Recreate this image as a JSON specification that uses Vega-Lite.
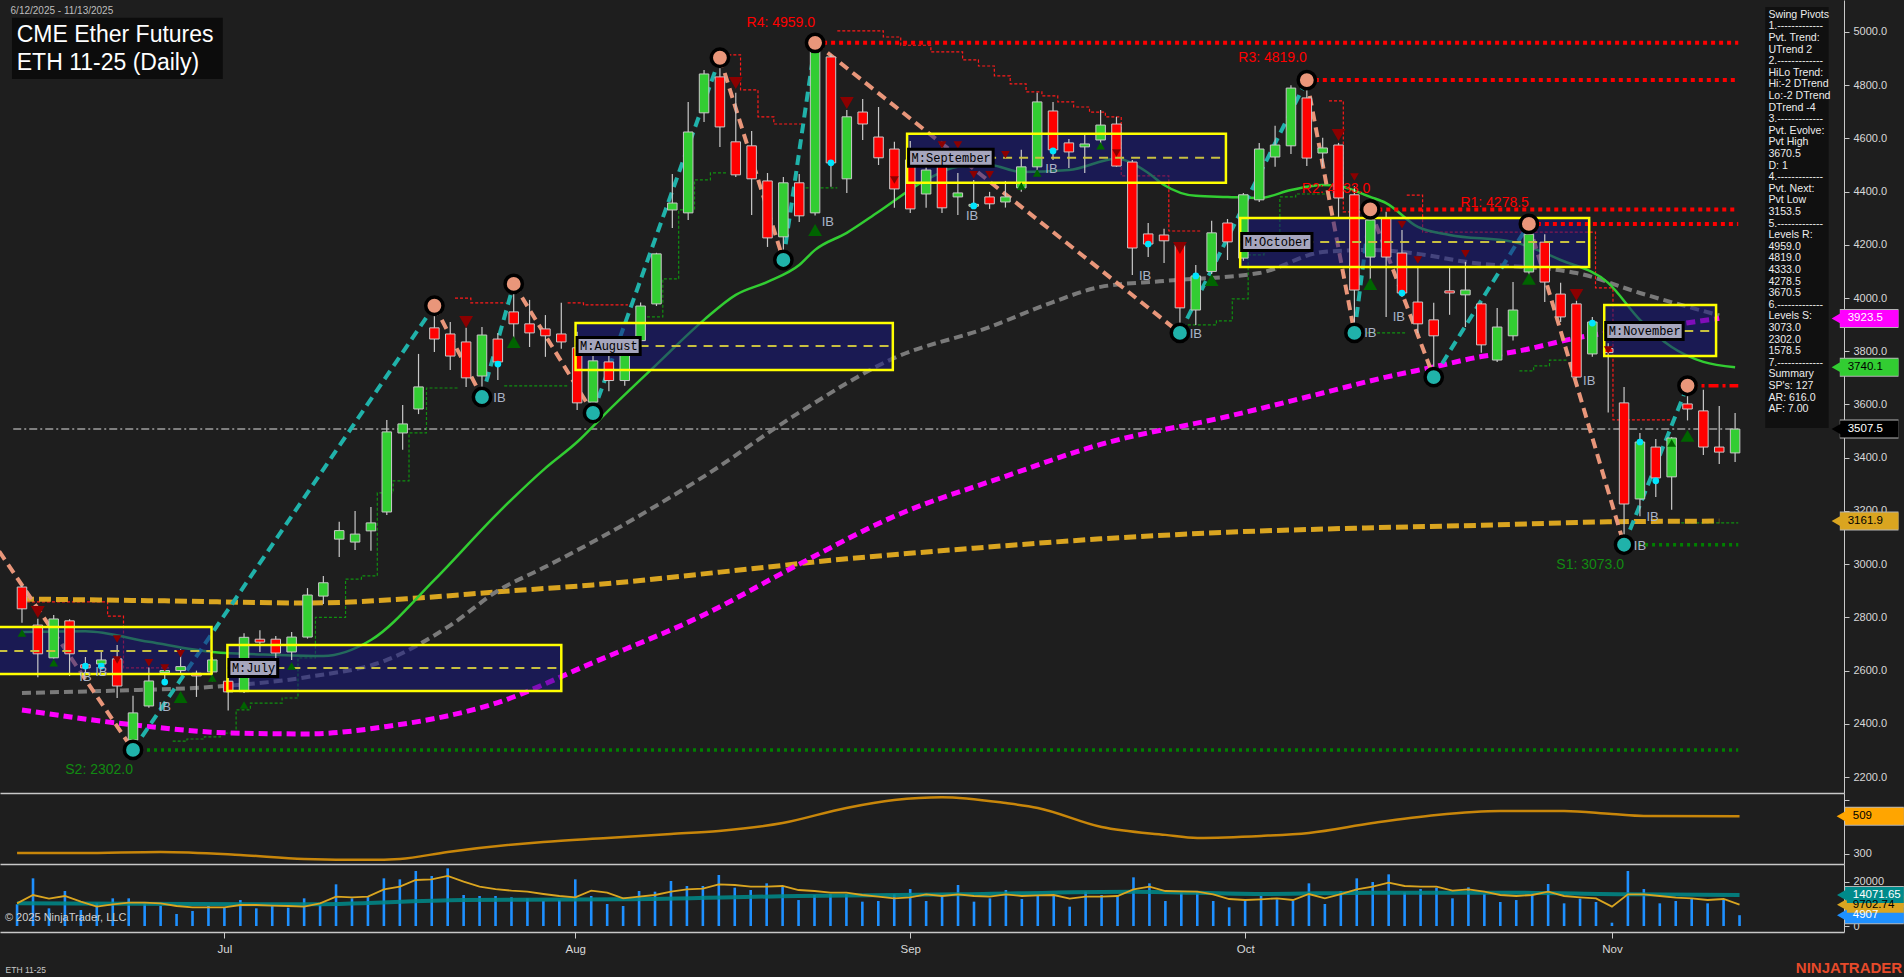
{
"$schema":"https://vega.github.io/schema/vega-lite/v6.json",
"background":"#1e1e1e",
"padding":0,
"spacing":0,
"bounds":"flush",
"config":{"view":{"stroke":null},"font":"Liberation Sans","axis":{"grid":false,"labelFont":"Liberation Sans"}},
"datasets":{
"bars":[
{"i":0,"o":2914,"h":2920,"l":2780,"c":2832,"v":9850,"vf":10300},
{"i":1,"o":2771,"h":2795,"l":2575,"c":2663,"v":21670,"vf":14090},
{"i":2,"o":2648,"h":2809,"l":2645,"c":2794,"v":8030,"vf":12420},
{"i":3,"o":2787,"h":2793,"l":2580,"c":2663,"v":15900,"vf":13640},
{"i":4,"o":2622,"h":2651,"l":2591,"c":2610,"v":7270,"vf":11060},
{"i":5,"o":2625,"h":2670,"l":2610,"c":2640,"v":10300,"vf":8790},
{"i":6,"o":2644,"h":2696,"l":2497,"c":2542,"v":12575,"vf":9850},
{"i":7,"o":2339,"h":2505,"l":2302,"c":2441,"v":12575,"vf":10600},
{"i":8,"o":2467,"h":2612,"l":2460,"c":2561,"v":10300,"vf":10600},
{"i":9,"o":2592,"h":2612,"l":2560,"c":2600,"v":9240,"vf":10300},
{"i":10,"o":2600,"h":2680,"l":2590,"c":2615,"v":5450,"vf":9090},
{"i":11,"o":2590,"h":2600,"l":2501,"c":2580,"v":6820,"vf":8480},
{"i":12,"o":2595,"h":2650,"l":2560,"c":2640,"v":9090,"vf":8480},
{"i":13,"o":2560,"h":2600,"l":2450,"c":2520,"v":8330,"vf":8480},
{"i":14,"o":2521,"h":2740,"l":2516,"c":2725,"v":11800,"vf":9545},
{"i":15,"o":2718,"h":2752,"l":2670,"c":2707,"v":8030,"vf":9545},
{"i":16,"o":2718,"h":2730,"l":2640,"c":2666,"v":9090,"vf":9240},
{"i":17,"o":2670,"h":2745,"l":2640,"c":2726,"v":8330,"vf":9090},
{"i":18,"o":2726,"h":2910,"l":2720,"c":2884,"v":12575,"vf":8790},
{"i":19,"o":2880,"h":2955,"l":2850,"c":2930,"v":9545,"vf":10300},
{"i":20,"o":3094,"h":3159,"l":3027,"c":3126,"v":18940,"vf":13330},
{"i":21,"o":3083,"h":3200,"l":3053,"c":3113,"v":12575,"vf":13030},
{"i":22,"o":3125,"h":3215,"l":3050,"c":3155,"v":13640,"vf":13330},
{"i":23,"o":3196,"h":3542,"l":3185,"c":3497,"v":21670,"vf":16670},
{"i":24,"o":3493,"h":3598,"l":3430,"c":3527,"v":21210,"vf":17880},
{"i":25,"o":3583,"h":3790,"l":3564,"c":3666,"v":25000,"vf":20900},
{"i":26,"o":3888,"h":3971,"l":3797,"c":3846,"v":22730,"vf":21210},
{"i":27,"o":3865,"h":3910,"l":3730,"c":3782,"v":26200,"vf":22730},
{"i":28,"o":3835,"h":3888,"l":3666,"c":3700,"v":14090,"vf":20150},
{"i":29,"o":3707,"h":3891,"l":3628,"c":3861,"v":13640,"vf":17880},
{"i":30,"o":3846,"h":3869,"l":3692,"c":3760,"v":13640,"vf":16800},
{"i":31,"o":3948,"h":4053,"l":3843,"c":3903,"v":13030,"vf":16060},
{"i":32,"o":3903,"h":3993,"l":3816,"c":3869,"v":12575,"vf":15600},
{"i":33,"o":3884,"h":3936,"l":3779,"c":3858,"v":11360,"vf":14540},
{"i":34,"o":3865,"h":3982,"l":3809,"c":3835,"v":11800,"vf":13640},
{"i":35,"o":3813,"h":3873,"l":3579,"c":3606,"v":21210,"vf":13030},
{"i":36,"o":3609,"h":3800,"l":3568,"c":3764,"v":13640,"vf":16060},
{"i":37,"o":3760,"h":3800,"l":3650,"c":3690,"v":10000,"vf":15150},
{"i":38,"o":3690,"h":3850,"l":3670,"c":3800,"v":9090,"vf":12575},
{"i":39,"o":3840,"h":3983,"l":3820,"c":3970,"v":15900,"vf":13330},
{"i":40,"o":3978,"h":4170,"l":3970,"c":4166,"v":15600,"vf":14090},
{"i":41,"o":4331,"h":4466,"l":4263,"c":4357,"v":20450,"vf":15600},
{"i":42,"o":4320,"h":4737,"l":4293,"c":4624,"v":18180,"vf":16670},
{"i":43,"o":4696,"h":4857,"l":4662,"c":4842,"v":18180,"vf":16970},
{"i":44,"o":4831,"h":4903,"l":4568,"c":4643,"v":23180,"vf":18940},
{"i":45,"o":4587,"h":4771,"l":4455,"c":4463,"v":17420,"vf":18630},
{"i":46,"o":4572,"h":4628,"l":4312,"c":4448,"v":16360,"vf":17880},
{"i":47,"o":4440,"h":4470,"l":4192,"c":4226,"v":19390,"vf":17880},
{"i":48,"o":4230,"h":4455,"l":4143,"c":4433,"v":17880,"vf":18180},
{"i":49,"o":4433,"h":4466,"l":4286,"c":4309,"v":11800,"vf":16360},
{"i":50,"o":4320,"h":4959,"l":4310,"c":4932,"v":14090,"vf":15900},
{"i":51,"o":4906,"h":4915,"l":4418,"c":4508,"v":14540,"vf":15150},
{"i":52,"o":4448,"h":4707,"l":4395,"c":4681,"v":14540,"vf":15150},
{"i":53,"o":4699,"h":4748,"l":4594,"c":4654,"v":11060,"vf":14090},
{"i":54,"o":4605,"h":4718,"l":4500,"c":4527,"v":11360,"vf":13330},
{"i":55,"o":4560,"h":4587,"l":4339,"c":4410,"v":14390,"vf":12575},
{"i":56,"o":4519,"h":4590,"l":4320,"c":4335,"v":16800,"vf":13030},
{"i":57,"o":4391,"h":4530,"l":4339,"c":4481,"v":11360,"vf":14390},
{"i":58,"o":4519,"h":4583,"l":4320,"c":4339,"v":13330,"vf":13640},
{"i":59,"o":4380,"h":4470,"l":4312,"c":4395,"v":18630,"vf":14390},
{"i":60,"o":4345,"h":4444,"l":4342,"c":4352,"v":11060,"vf":13640},
{"i":61,"o":4380,"h":4399,"l":4335,"c":4354,"v":12575,"vf":13330},
{"i":62,"o":4361,"h":4440,"l":4340,"c":4380,"v":16360,"vf":14390},
{"i":63,"o":4414,"h":4557,"l":4399,"c":4493,"v":12270,"vf":13640},
{"i":64,"o":4493,"h":4771,"l":4481,"c":4737,"v":14090,"vf":13940},
{"i":65,"o":4703,"h":4737,"l":4519,"c":4557,"v":14090,"vf":14090},
{"i":66,"o":4583,"h":4598,"l":4489,"c":4549,"v":8790,"vf":12420},
{"i":67,"o":4568,"h":4613,"l":4470,"c":4579,"v":15600,"vf":13330},
{"i":68,"o":4594,"h":4707,"l":4564,"c":4650,"v":14090,"vf":13330},
{"i":69,"o":4654,"h":4681,"l":4493,"c":4496,"v":14090,"vf":13640},
{"i":70,"o":4511,"h":4519,"l":4087,"c":4188,"v":22120,"vf":16670},
{"i":71,"o":4241,"h":4282,"l":4154,"c":4203,"v":19390,"vf":17880},
{"i":72,"o":4237,"h":4260,"l":4132,"c":4215,"v":11360,"vf":15900},
{"i":73,"o":4200,"h":4211,"l":3869,"c":3963,"v":15300,"vf":15750},
{"i":74,"o":3955,"h":4124,"l":3899,"c":4083,"v":15600,"vf":15600},
{"i":75,"o":4100,"h":4290,"l":4090,"c":4245,"v":11360,"vf":14390},
{"i":76,"o":4282,"h":4297,"l":4143,"c":4211,"v":8480,"vf":12270},
{"i":77,"o":4150,"h":4395,"l":4140,"c":4388,"v":11510,"vf":11820},
{"i":78,"o":4369,"h":4583,"l":4361,"c":4560,"v":13640,"vf":12120},
{"i":79,"o":4530,"h":4647,"l":4493,"c":4575,"v":12120,"vf":12575},
{"i":80,"o":4572,"h":4800,"l":4541,"c":4789,"v":11510,"vf":11820},
{"i":81,"o":4752,"h":4819,"l":4496,"c":4526,"v":19390,"vf":14540},
{"i":82,"o":4545,"h":4602,"l":4493,"c":4564,"v":10000,"vf":12575},
{"i":83,"o":4575,"h":4583,"l":4305,"c":4376,"v":15900,"vf":14540},
{"i":84,"o":4388,"h":4420,"l":3869,"c":4030,"v":21670,"vf":16670},
{"i":85,"o":4154,"h":4333,"l":4070,"c":4293,"v":20000,"vf":17880},
{"i":86,"o":4301,"h":4324,"l":3929,"c":4154,"v":23480,"vf":19700},
{"i":87,"o":4169,"h":4256,"l":4004,"c":4019,"v":15300,"vf":18180},
{"i":88,"o":3985,"h":4117,"l":3869,"c":3903,"v":16800,"vf":17880},
{"i":89,"o":3918,"h":3982,"l":3703,"c":3858,"v":17420,"vf":17880},
{"i":90,"o":4027,"h":4113,"l":3937,"c":4019,"v":12575,"vf":16060},
{"i":91,"o":4012,"h":4136,"l":3891,"c":4030,"v":17570,"vf":16670},
{"i":92,"o":3978,"h":3982,"l":3794,"c":3824,"v":14540,"vf":15600},
{"i":93,"o":3767,"h":3963,"l":3760,"c":3891,"v":10900,"vf":14090},
{"i":94,"o":3858,"h":4060,"l":3840,"c":3955,"v":11800,"vf":13640},
{"i":95,"o":4098,"h":4278.5,"l":4080,"c":4240,"v":14850,"vf":14090},
{"i":96,"o":4210,"h":4240,"l":3985,"c":4060,"v":19090,"vf":15600},
{"i":97,"o":4015,"h":4057,"l":3910,"c":3929,"v":10300,"vf":13640},
{"i":98,"o":3978,"h":3990,"l":3700,"c":3703,"v":12420,"vf":13030},
{"i":99,"o":3790,"h":3929,"l":3779,"c":3910,"v":10900,"vf":12575},
{"i":100,"o":3810,"h":3830,"l":3570,"c":3795,"v":1500,"vf":8790},
{"i":101,"o":3606,"h":3666,"l":3073,"c":3226,"v":25000,"vf":14390},
{"i":102,"o":3245,"h":3493,"l":3180,"c":3459,"v":16800,"vf":14390},
{"i":103,"o":3440,"h":3470,"l":3252,"c":3324,"v":10300,"vf":13640},
{"i":104,"o":3328,"h":3478,"l":3204,"c":3474,"v":11360,"vf":12880},
{"i":105,"o":3602,"h":3670.5,"l":3540,"c":3583,"v":12575,"vf":12575},
{"i":106,"o":3576,"h":3655,"l":3410,"c":3440,"v":10300,"vf":11820},
{"i":107,"o":3440,"h":3594,"l":3376,"c":3421,"v":12120,"vf":12270},
{"i":108,"o":3418,"h":3568,"l":3384,"c":3507.5,"v":4907,"vf":9703}
],
"ma":[
{"s":"g","i":0,"p":2745},{"s":"g","i":4,"p":2748},{"s":"g","i":8,"p":2708},{"s":"g","i":12,"p":2670},{"s":"g","i":16,"p":2659},{"s":"g","i":19,"p":2655},{"s":"g","i":22,"p":2715},{"s":"g","i":26,"p":2941},{"s":"g","i":30,"p":3192},{"s":"g","i":33,"p":3361},{"s":"g","i":35,"p":3459},{"s":"g","i":37,"p":3579},{"s":"g","i":40,"p":3750},{"s":"g","i":43,"p":3918},{"s":"g","i":45,"p":4012},{"s":"g","i":47,"p":4061},{"s":"g","i":49,"p":4124},{"s":"g","i":50,"p":4181},{"s":"g","i":52,"p":4245},{"s":"g","i":54,"p":4324},{"s":"g","i":57,"p":4444},{"s":"g","i":59,"p":4493},{"s":"g","i":61,"p":4500},{"s":"g","i":63,"p":4474},{"s":"g","i":66,"p":4481},{"s":"g","i":69,"p":4523},{"s":"g","i":71,"p":4470},{"s":"g","i":72,"p":4425},{"s":"g","i":74,"p":4384},{"s":"g","i":76,"p":4380},{"s":"g","i":78,"p":4376},{"s":"g","i":80,"p":4406},{"s":"g","i":82,"p":4425},{"s":"g","i":83,"p":4421},{"s":"g","i":85,"p":4380},{"s":"g","i":86,"p":4357},{"s":"g","i":88,"p":4267},{"s":"g","i":90,"p":4237},{"s":"g","i":94,"p":4211},{"s":"g","i":97,"p":4143},{"s":"g","i":100,"p":4057},{"s":"g","i":102,"p":3918},{"s":"g","i":104,"p":3816},{"s":"g","i":106,"p":3760},{"s":"g","i":108,"p":3740.1},
{"s":"k","i":0,"p":2516},{"s":"k","i":6,"p":2525},{"s":"k","i":12,"p":2539},{"s":"k","i":18,"p":2576},{"s":"k","i":23,"p":2640},{"s":"k","i":27,"p":2770},{"s":"k","i":30,"p":2900},{"s":"k","i":33,"p":2990},{"s":"k","i":37,"p":3117},{"s":"k","i":43,"p":3330},{"s":"k","i":49,"p":3570},{"s":"k","i":55,"p":3775},{"s":"k","i":61,"p":3891},{"s":"k","i":65,"p":3985},{"s":"k","i":68,"p":4042},{"s":"k","i":72,"p":4064},{"s":"k","i":78,"p":4094},{"s":"k","i":82,"p":4173},{"s":"k","i":85,"p":4181},{"s":"k","i":88,"p":4166},{"s":"k","i":91,"p":4136},{"s":"k","i":98,"p":4094},{"s":"k","i":102,"p":4019},{"s":"k","i":107,"p":3935},
{"s":"m","i":0,"p":2452},{"s":"m","i":7,"p":2396},{"s":"m","i":13,"p":2366},{"s":"m","i":18,"p":2362},{"s":"m","i":23,"p":2390},{"s":"m","i":30,"p":2480},{"s":"m","i":36,"p":2630},{"s":"m","i":43,"p":2810},{"s":"m","i":49,"p":3000},{"s":"m","i":55,"p":3180},{"s":"m","i":62,"p":3330},{"s":"m","i":68,"p":3450},{"s":"m","i":76,"p":3555},{"s":"m","i":82,"p":3643},{"s":"m","i":86,"p":3703},{"s":"m","i":89,"p":3741},{"s":"m","i":92,"p":3780},{"s":"m","i":94,"p":3797},{"s":"m","i":98,"p":3850},{"s":"m","i":104,"p":3899},{"s":"m","i":107,"p":3923.5},
{"s":"o","i":0,"p":2869},{"s":"o","i":9,"p":2862},{"s":"o","i":18,"p":2854},{"s":"o","i":25,"p":2873},{"s":"o","i":30,"p":2896},{"s":"o","i":36,"p":2922},{"s":"o","i":44,"p":2970},{"s":"o","i":52,"p":3020},{"s":"o","i":60,"p":3060},{"s":"o","i":68,"p":3095},{"s":"o","i":76,"p":3120},{"s":"o","i":84,"p":3135},{"s":"o","i":92,"p":3146},{"s":"o","i":100,"p":3159},{"s":"o","i":107,"p":3161.9}
],
"sw":[
{"leg":0,"d":"d","i":-2,"p":3098},{"leg":0,"d":"d","i":7,"p":2302},
{"leg":1,"d":"u","i":7,"p":2302},{"leg":1,"d":"u","i":26,"p":3971},
{"leg":2,"d":"d","i":26,"p":3971},{"leg":2,"d":"d","i":29,"p":3628},
{"leg":3,"d":"u","i":29,"p":3628},{"leg":3,"d":"u","i":31,"p":4053},
{"leg":4,"d":"d","i":31,"p":4053},{"leg":4,"d":"d","i":36,"p":3568},
{"leg":5,"d":"u","i":36,"p":3568},{"leg":5,"d":"u","i":44,"p":4903},
{"leg":6,"d":"d","i":44,"p":4903},{"leg":6,"d":"d","i":48,"p":4143},
{"leg":7,"d":"u","i":48,"p":4143},{"leg":7,"d":"u","i":50,"p":4959},
{"leg":8,"d":"d","i":50,"p":4959},{"leg":8,"d":"d","i":73,"p":3869},
{"leg":9,"d":"u","i":73,"p":3869},{"leg":9,"d":"u","i":81,"p":4819},
{"leg":10,"d":"d","i":81,"p":4819},{"leg":10,"d":"d","i":84,"p":3869},
{"leg":11,"d":"u","i":84,"p":3869},{"leg":11,"d":"u","i":85,"p":4333},
{"leg":12,"d":"d","i":85,"p":4333},{"leg":12,"d":"d","i":89,"p":3703},
{"leg":13,"d":"u","i":89,"p":3703},{"leg":13,"d":"u","i":95,"p":4278.5},
{"leg":14,"d":"d","i":95,"p":4278.5},{"leg":14,"d":"d","i":101,"p":3073},
{"leg":15,"d":"u","i":101,"p":3073},{"leg":15,"d":"u","i":105,"p":3670.5}
],
"piv":[
{"t":"L","i":7,"p":2302},{"t":"H","i":26,"p":3971},{"t":"L","i":29,"p":3628},{"t":"H","i":31,"p":4053},{"t":"L","i":36,"p":3568},{"t":"H","i":44,"p":4903},{"t":"L","i":48,"p":4143},{"t":"H","i":50,"p":4959},{"t":"L","i":73,"p":3869},{"t":"H","i":81,"p":4819},{"t":"L","i":84,"p":3869},{"t":"H","i":85,"p":4333},{"t":"L","i":89,"p":3703},{"t":"H","i":95,"p":4278.5},{"t":"L","i":101,"p":3073},{"t":"H","i":105,"p":3670.5}
],
"st":[
{"k":"R","seg":1,"i":0,"p":2858},{"k":"R","seg":1,"i":5.4,"p":2805},{"k":"R","seg":1,"i":6.4,"p":2610},{"k":"R","seg":1,"i":9.4,"p":2610},
{"k":"R","seg":2,"i":27.3,"p":4000},{"k":"R","seg":2,"i":28.3,"p":3982},{"k":"R","seg":2,"i":30.5,"p":3982},
{"k":"R","seg":3,"i":34.4,"p":3982},{"k":"R","seg":3,"i":35.4,"p":3974},{"k":"R","seg":3,"i":38.2,"p":3974},
{"k":"R","seg":4,"i":43.9,"p":4914},{"k":"R","seg":4,"i":45.3,"p":4782},{"k":"R","seg":4,"i":46.4,"p":4681},{"k":"R","seg":4,"i":47.4,"p":4654},{"k":"R","seg":4,"i":49.3,"p":4654},
{"k":"R","seg":5,"i":51.4,"p":5004},{"k":"R","seg":5,"i":54.3,"p":4981},{"k":"R","seg":5,"i":55.4,"p":4950},{"k":"R","seg":5,"i":57.3,"p":4925},{"k":"R","seg":5,"i":59.3,"p":4895},{"k":"R","seg":5,"i":60.3,"p":4872},{"k":"R","seg":5,"i":61.3,"p":4835},{"k":"R","seg":5,"i":62.3,"p":4805},{"k":"R","seg":5,"i":63.3,"p":4775},{"k":"R","seg":5,"i":64.3,"p":4760},{"k":"R","seg":5,"i":65.3,"p":4737},{"k":"R","seg":5,"i":66.3,"p":4718},{"k":"R","seg":5,"i":67.3,"p":4699},{"k":"R","seg":5,"i":68.3,"p":4681},{"k":"R","seg":5,"i":69.3,"p":4459},{"k":"R","seg":5,"i":72.3,"p":4252},{"k":"R","seg":5,"i":74.4,"p":4252},
{"k":"R","seg":6,"i":82.4,"p":4741},{"k":"R","seg":6,"i":83.3,"p":4324},{"k":"R","seg":6,"i":85,"p":4324},
{"k":"R","seg":7,"i":87.3,"p":4387},{"k":"R","seg":7,"i":88.3,"p":4248},{"k":"R","seg":7,"i":99.2,"p":4038},{"k":"R","seg":7,"i":100.3,"p":3542},{"k":"R","seg":7,"i":104.3,"p":3542},
{"k":"G","seg":11,"i":9.5,"p":2335},{"k":"G","seg":11,"i":10.4,"p":2343},{"k":"G","seg":11,"i":11.5,"p":2351},{"k":"G","seg":11,"i":12.5,"p":2365},{"k":"G","seg":11,"i":13.5,"p":2452},{"k":"G","seg":11,"i":14.4,"p":2478},{"k":"G","seg":11,"i":16.4,"p":2497},{"k":"G","seg":11,"i":17.4,"p":2648},{"k":"G","seg":11,"i":18.5,"p":2800},{"k":"G","seg":11,"i":20.4,"p":2944},{"k":"G","seg":11,"i":21.4,"p":2956},{"k":"G","seg":11,"i":22.4,"p":3268},{"k":"G","seg":11,"i":23.4,"p":3313},{"k":"G","seg":11,"i":24.4,"p":3493},{"k":"G","seg":11,"i":25.5,"p":3662},{"k":"G","seg":11,"i":27.5,"p":3662},
{"k":"G","seg":12,"i":30.4,"p":3670},{"k":"G","seg":12,"i":34.4,"p":3670},
{"k":"G","seg":13,"i":39.4,"p":3929},{"k":"G","seg":13,"i":40.4,"p":4072},{"k":"G","seg":13,"i":41.4,"p":4331},{"k":"G","seg":13,"i":42.4,"p":4444},{"k":"G","seg":13,"i":43.4,"p":4470},{"k":"G","seg":13,"i":44.4,"p":4470},
{"k":"G","seg":14,"i":49.4,"p":4414},{"k":"G","seg":14,"i":51.4,"p":4414},
{"k":"G","seg":15,"i":73.5,"p":3899},{"k":"G","seg":15,"i":75.3,"p":3914},{"k":"G","seg":15,"i":76.3,"p":3997},{"k":"G","seg":15,"i":77.3,"p":4162},{"k":"G","seg":15,"i":78.3,"p":4211},{"k":"G","seg":15,"i":79.3,"p":4380},{"k":"G","seg":15,"i":80.3,"p":4391},{"k":"G","seg":15,"i":82.3,"p":4391},
{"k":"G","seg":16,"i":84.8,"p":3869},{"k":"G","seg":16,"i":87.3,"p":3869},
{"k":"G","seg":17,"i":94.4,"p":3726},{"k":"G","seg":17,"i":95.3,"p":3745},{"k":"G","seg":17,"i":96.3,"p":3767},{"k":"G","seg":17,"i":97.4,"p":3767},
{"k":"G","seg":18,"i":104.6,"p":3155},{"k":"G","seg":18,"i":108.2,"p":3155}
],
"mb":[
{"label":"","i0":-2.5,"i1":11.95,"lo":2587,"hi":2764,"mid":2674},
{"label":"M:July","i0":12.95,"i1":34,"lo":2523,"hi":2696,"mid":2610},
{"label":"M:August","i0":34.9,"i1":54.9,"lo":3730,"hi":3906,"mid":3820},
{"label":"M:September","i0":55.8,"i1":75.9,"lo":4433,"hi":4617,"mid":4527},
{"label":"M:October","i0":76.8,"i1":98.8,"lo":4117,"hi":4301,"mid":4211},
{"label":"M:November","i0":99.75,"i1":106.8,"lo":3782,"hi":3974,"mid":3876}
],
"lv":[
{"n":"R4","p":4959,"i0":50,"i1":108.2},{"n":"R3","p":4819,"i0":81,"i1":108.2},{"n":"R2","p":4333,"i0":85,"i1":108.2},{"n":"R1","p":4278.5,"i0":95,"i1":108.2},{"n":"R0","p":3670.5,"i0":105,"i1":108.2},{"n":"S1","p":3073,"i0":101,"i1":108.2},{"n":"S2","p":2302,"i0":7,"i1":108.2}
],
"lt":[
{"k":"R","t":"R4: 4959.0","i":50,"p":5034},{"k":"R","t":"R3: 4819.0","i":81,"p":4902},{"k":"R","t":"R2: 4333.0","i":85,"p":4410},{"k":"R","t":"R1: 4278.5","i":95,"p":4357},{"k":"S","t":"S1: 3073.0","i":101,"p":2997},{"k":"S","t":"S2: 2302.0","i":7,"p":2227}
],
"tri":[
{"d":"u","s":"weak","i":0,"p":2741},{"d":"u","s":"weak","i":2,"p":2629},{"d":"u","s":"strong","i":10,"p":2501},{"d":"u","s":"weak","i":12,"p":2572},{"d":"u","s":"weak","i":14,"p":2471},{"d":"u","s":"weak","i":17,"p":2617},{"d":"u","s":"strong","i":31,"p":3835},{"d":"u","s":"strong","i":50,"p":4256},{"d":"u","s":"weak","i":63,"p":4421},{"d":"u","s":"weak","i":64,"p":4470},{"d":"u","s":"weak","i":68,"p":4572},{"d":"u","s":"strong","i":75,"p":4068},{"d":"u","s":"strong","i":85,"p":4053},{"d":"u","s":"strong","i":95,"p":4072},{"d":"u","s":"weak","i":104,"p":3455},{"d":"u","s":"strong","i":105,"p":3482},
{"d":"d","s":"strong","i":1,"p":2820},{"d":"d","s":"weak","i":6,"p":2719},{"d":"d","s":"weak","i":6,"p":2640},{"d":"d","s":"weak","i":8,"p":2629},{"d":"d","s":"weak","i":9,"p":2610},{"d":"d","s":"weak","i":10,"p":2663},{"d":"d","s":"strong","i":28,"p":3910},{"d":"d","s":"strong","i":45,"p":4808},{"d":"d","s":"strong","i":52,"p":4733},{"d":"d","s":"weak","i":55,"p":4444},{"d":"d","s":"weak","i":58,"p":4575},{"d":"d","s":"weak","i":59,"p":4575},{"d":"d","s":"weak","i":60,"p":4463},{"d":"d","s":"weak","i":61,"p":4463},{"d":"d","s":"weak","i":62,"p":4538},{"d":"d","s":"weak","i":69,"p":4545},{"d":"d","s":"strong","i":73,"p":4188},{"d":"d","s":"strong","i":83,"p":4613},{"d":"d","s":"weak","i":84,"p":4455},{"d":"d","s":"weak","i":87,"p":4275},{"d":"d","s":"weak","i":88,"p":4143},{"d":"d","s":"weak","i":91,"p":4166},{"d":"d","s":"strong","i":98,"p":4012},{"d":"d","s":"weak","i":100,"p":3805}
],
"cy":[
{"i":4,"p":2617},{"i":5,"p":2617},{"i":9,"p":2557},{"i":30,"p":3752},{"i":51,"p":4508},{"i":60,"p":4346},{"i":65,"p":4553},{"i":71,"p":4203},{"i":74,"p":4083},{"i":87,"p":4019},{"i":99,"p":3906},{"i":102,"p":3459},{"i":103,"p":3313}
],
"ib":[
{"i":4,"p":2576},{"i":5,"p":2595},{"i":9,"p":2463},{"i":30.1,"p":3625},{"i":50.8,"p":4286},{"i":59.9,"p":4309},{"i":64.9,"p":4485},{"i":70.8,"p":4083},{"i":74.0,"p":3865},{"i":85.0,"p":3869},{"i":86.8,"p":3929},{"i":98.8,"p":3688},{"i":102.8,"p":3177},{"i":102.0,"p":3068}
],
"bp":[
{"k":"m","lab":"3923.5","v":3923.5},{"k":"g","lab":"3740.1","v":3740.1},{"k":"c","lab":"3507.5","v":3507.5},{"k":"o","lab":"3161.9","v":3161.9}
],
"bi":[{"k":"a","lab":"509","v":509}],
"bv":[
{"k":"b","lab":"4907","v":4907},{"k":"o","lab":"9702.74","v":9702.74},{"k":"t","lab":"14071.65","v":14071.65}
],
"ind":[
{"i":0,"v":305},{"i":4,"v":305},{"i":9,"v":311},{"i":14,"v":294},{"i":18,"v":272},{"i":22,"v":267},{"i":24,"v":272},{"i":27,"v":311},{"i":33,"v":367},{"i":37,"v":389},{"i":41,"v":411},{"i":44,"v":428},{"i":48,"v":472},{"i":52,"v":556},{"i":55,"v":600},{"i":58,"v":616},{"i":62,"v":583},{"i":64,"v":556},{"i":68,"v":450},{"i":72,"v":406},{"i":74,"v":389},{"i":78,"v":400},{"i":81,"v":417},{"i":85,"v":472},{"i":89,"v":517},{"i":93,"v":539},{"i":97,"v":539},{"i":100,"v":522},{"i":102,"v":511},{"i":108,"v":509}
],
"vs":[
{"i":0,"v":10300},{"i":18,"v":9850},{"i":28,"v":11800},{"i":38,"v":12120},{"i":49,"v":13640},{"i":59,"v":14390},{"i":70,"v":15600},{"i":78,"v":14540},{"i":85,"v":15150},{"i":93,"v":15150},{"i":101,"v":14390},{"i":108,"v":14071.65}
],
"last":[{"p":3507.5}],
"info":[{"txt":"Swing Pivots\n1.-------------\nPvt. Trend:\nUTrend 2\n2.-------------\nHiLo Trend:\nHi:-2 DTrend\nLo:-2 DTrend\nDTrend -4\n3.-------------\nPvt. Evolve:\nPvt High\n3670.5\nD: 1\n4.-------------\nPvt. Next:\nPvt Low\n3153.5\n5.-------------\nLevels R:\n4959.0\n4819.0\n4333.0\n4278.5\n3670.5\n6.-------------\nLevels S:\n3073.0\n2302.0\n1578.5\n7.-------------\nSummary\nSP's: 127\nAR: 616.0\nAF: 7.00"}]
},
"vconcat":[
{"width":1844,"height":793,"layer":[
{"data":{"name":"st"},"transform":[{"filter":"datum.k=='R'"}],"mark":{"type":"line","interpolate":"step-after","stroke":"#ff1a1a","strokeWidth":1.2,"strokeDash":[3,2]},
 "encoding":{"x":{"field":"i","type":"quantitative","title":null,"scale":{"domain":[-1.07,114.55],"nice":false,"zero":false},"axis":{"orient":"bottom","labels":false,"ticks":false,"domain":true,"domainColor":"#c8c8c8","domainWidth":1.5,"grid":false,"title":null}},
 "y":{"field":"p","type":"quantitative","title":null,"scale":{"domain":[2140,5120],"nice":false,"zero":false},"axis":{"orient":"right","values":[2200,2400,2600,2800,3000,3200,3400,3600,3800,4000,4200,4400,4600,4800,5000],"format":".1f","grid":false,"domainColor":"#c8c8c8","tickColor":"#c8c8c8","labelColor":"#d8d8d8","labelFontSize":11,"tickSize":5,"labelPadding":4,"title":null}},
 "detail":{"field":"seg"}}},
{"data":{"name":"st"},"transform":[{"filter":"datum.k=='G'"}],"mark":{"type":"line","interpolate":"step-after","stroke":"#109010","strokeWidth":1.2,"strokeDash":[3,2]},
 "encoding":{"x":{"field":"i","type":"quantitative","title":null},"y":{"field":"p","type":"quantitative","title":null},"detail":{"field":"seg"}}},
{"data":{"name":"last"},"mark":{"type":"rule","stroke":"#a0a0a0","strokeWidth":1.5,"strokeDash":[8,3,2,3]},
 "encoding":{"x":{"datum":-0.55,"type":"quantitative"},"x2":{"datum":108.2},"y":{"field":"p","type":"quantitative","title":null}}},
{"data":{"name":"ma"},"transform":[{"filter":"datum.s=='o'"}],"mark":{"type":"line","stroke":"#daa520","strokeWidth":5,"strokeDash":[12,5],"interpolate":"monotone"},
 "encoding":{"x":{"field":"i","type":"quantitative","title":null},"y":{"field":"p","type":"quantitative","title":null}}},
{"data":{"name":"ma"},"transform":[{"filter":"datum.s=='k'"}],"mark":{"type":"line","stroke":"#7a7a7a","strokeWidth":4,"strokeDash":[9,5],"interpolate":"monotone"},
 "encoding":{"x":{"field":"i","type":"quantitative","title":null},"y":{"field":"p","type":"quantitative","title":null}}},
{"data":{"name":"ma"},"transform":[{"filter":"datum.s=='m'"}],"mark":{"type":"line","stroke":"#ff00ff","strokeWidth":5,"strokeDash":[9,5],"interpolate":"monotone"},
 "encoding":{"x":{"field":"i","type":"quantitative","title":null},"y":{"field":"p","type":"quantitative","title":null}}},
{"data":{"name":"ma"},"transform":[{"filter":"datum.s=='g'"}],"mark":{"type":"line","stroke":"#32cd32","strokeWidth":2.5,"interpolate":"monotone"},
 "encoding":{"x":{"field":"i","type":"quantitative","title":null},"y":{"field":"p","type":"quantitative","title":null}}},
{"data":{"name":"sw"},"transform":[{"filter":"datum.d=='u'"}],"mark":{"type":"line","stroke":"#20b2aa","strokeWidth":4,"strokeDash":[10,6],"clip":true},
 "encoding":{"x":{"field":"i","type":"quantitative","title":null},"y":{"field":"p","type":"quantitative","title":null},"detail":{"field":"leg"}}},
{"data":{"name":"sw"},"transform":[{"filter":"datum.d=='d'"}],"mark":{"type":"line","stroke":"#e9967a","strokeWidth":4,"strokeDash":[10,6],"clip":true},
 "encoding":{"x":{"field":"i","type":"quantitative","title":null},"y":{"field":"p","type":"quantitative","title":null},"detail":{"field":"leg"}}},
{"data":{"name":"mb"},"mark":{"type":"rect","fill":"#181880","opacity":0.55,"clip":true},
 "encoding":{"x":{"field":"i0","type":"quantitative","title":null},"x2":{"field":"i1"},"y":{"field":"lo","type":"quantitative","title":null},"y2":{"field":"hi"}}},
{"data":{"name":"bars"},"mark":{"type":"rule","stroke":"#c8c8c8","strokeWidth":1.2},
 "encoding":{"x":{"field":"i","type":"quantitative","title":null},"y":{"field":"l","type":"quantitative","title":null},"y2":{"field":"h"}}},
{"data":{"name":"bars"},"mark":{"type":"bar","width":9.5,"stroke":"#c8c8c8","strokeWidth":1},
 "encoding":{"x":{"field":"i","type":"quantitative","title":null},"y":{"field":"o","type":"quantitative","title":null},"y2":{"field":"c"},
 "fill":{"condition":{"test":"datum.c>=datum.o","value":"#32cd32"},"value":"#ff0000"}}},
{"data":{"name":"lv"},"transform":[{"filter":"datum.n=='R1'||datum.n=='R2'||datum.n=='R3'||datum.n=='R4'"}],"mark":{"type":"rule","stroke":"#ff0000","strokeWidth":4,"strokeDash":[4,4]},
 "encoding":{"x":{"field":"i0","type":"quantitative","title":null},"x2":{"field":"i1"},"y":{"field":"p","type":"quantitative","title":null}}},
{"data":{"name":"lv"},"transform":[{"filter":"datum.n=='R0'"}],"mark":{"type":"rule","stroke":"#ff0000","strokeWidth":3.5,"strokeDash":[10,4,3,4]},
 "encoding":{"x":{"field":"i0","type":"quantitative","title":null},"x2":{"field":"i1"},"y":{"field":"p","type":"quantitative","title":null}}},
{"data":{"name":"lv"},"transform":[{"filter":"datum.n=='S1'||datum.n=='S2'"}],"mark":{"type":"rule","stroke":"#008000","strokeWidth":3.5,"strokeDash":[3,4]},
 "encoding":{"x":{"field":"i0","type":"quantitative","title":null},"x2":{"field":"i1"},"y":{"field":"p","type":"quantitative","title":null}}},
{"data":{"name":"mb"},"mark":{"type":"rect","fillOpacity":0,"stroke":"#ffff00","strokeWidth":2.5,"clip":true},
 "encoding":{"x":{"field":"i0","type":"quantitative","title":null},"x2":{"field":"i1"},"y":{"field":"lo","type":"quantitative","title":null},"y2":{"field":"hi"}}},
{"data":{"name":"mb"},"mark":{"type":"rule","stroke":"#c8c040","strokeWidth":2,"strokeDash":[9,7],"clip":true},
 "encoding":{"x":{"field":"i0","type":"quantitative","title":null},"x2":{"field":"i1"},"y":{"field":"mid","type":"quantitative","title":null}}},
{"data":{"name":"tri"},"transform":[{"filter":"datum.d=='u'"}],"mark":{"type":"point","shape":"triangle-up","filled":true,"fill":"#006400","opacity":1},
 "encoding":{"x":{"field":"i","type":"quantitative","title":null},"y":{"field":"p","type":"quantitative","title":null},"size":{"condition":{"test":"datum.s=='strong'","value":190},"value":75}}},
{"data":{"name":"tri"},"transform":[{"filter":"datum.d=='d'"}],"mark":{"type":"point","shape":"triangle-down","filled":true,"fill":"#8b0000","opacity":1},
 "encoding":{"x":{"field":"i","type":"quantitative","title":null},"y":{"field":"p","type":"quantitative","title":null},"size":{"condition":{"test":"datum.s=='strong'","value":190},"value":75}}},
{"data":{"name":"cy"},"mark":{"type":"circle","fill":"#00e5ff","size":45,"opacity":1},
 "encoding":{"x":{"field":"i","type":"quantitative","title":null},"y":{"field":"p","type":"quantitative","title":null}}},
{"data":{"name":"piv"},"mark":{"type":"point","shape":"circle","filled":true,"size":300,"stroke":"#000000","strokeWidth":3.5,"opacity":1},
 "encoding":{"x":{"field":"i","type":"quantitative","title":null},"y":{"field":"p","type":"quantitative","title":null},
 "fill":{"condition":{"test":"datum.t=='H'","value":"#e9967a"},"value":"#20b2aa"}}},
{"data":{"name":"ib"},"mark":{"type":"text","text":"IB","fill":"#aab4c8","fontSize":13,"align":"center","baseline":"middle"},
 "encoding":{"x":{"field":"i","type":"quantitative","title":null},"y":{"field":"p","type":"quantitative","title":null}}},
{"data":{"name":"mb"},"transform":[{"filter":"datum.label!=''"},{"calculate":"datum.i0+0.451*length(datum.label)+0.56","as":"lx2"}],
 "mark":{"type":"rule","stroke":"#000000","strokeWidth":20},
 "encoding":{"x":{"field":"i0","type":"quantitative","title":null},"x2":{"field":"lx2"},"y":{"field":"mid","type":"quantitative","title":null}}},
{"data":{"name":"mb"},"transform":[{"filter":"datum.label!=''"},{"calculate":"datum.i0+0.19","as":"ix1"},{"calculate":"datum.i0+0.451*length(datum.label)+0.37","as":"ix2"}],
 "mark":{"type":"rule","stroke":"#a6a6bd","strokeWidth":14},
 "encoding":{"x":{"field":"ix1","type":"quantitative","title":null},"x2":{"field":"ix2"},"y":{"field":"mid","type":"quantitative","title":null}}},
{"data":{"name":"mb"},"transform":[{"filter":"datum.label!=''"}],
 "mark":{"type":"text","font":"Liberation Mono","fontSize":12,"fill":"#000000","align":"left","baseline":"middle","dx":4.5},
 "encoding":{"x":{"field":"i0","type":"quantitative","title":null},"y":{"field":"mid","type":"quantitative","title":null},"text":{"field":"label"}}},
{"data":{"name":"lt"},"transform":[{"filter":"datum.k=='R'"}],"mark":{"type":"text","fill":"#ff0000","fontSize":14,"align":"right","baseline":"middle"},
 "encoding":{"x":{"field":"i","type":"quantitative","title":null},"y":{"field":"p","type":"quantitative","title":null},"text":{"field":"t"}}},
{"data":{"name":"lt"},"transform":[{"filter":"datum.k=='S'"}],"mark":{"type":"text","fill":"#128a12","fontSize":14,"align":"right","baseline":"middle"},
 "encoding":{"x":{"field":"i","type":"quantitative","title":null},"y":{"field":"p","type":"quantitative","title":null},"text":{"field":"t"}}},
{"data":{"values":[{}]},"mark":{"type":"rect","fill":"#0c0c0c"},
 "encoding":{"x":{"datum":-0.63,"type":"quantitative"},"x2":{"datum":12.66},"y":{"datum":5053,"type":"quantitative"},"y2":{"datum":4823}}},
{"data":{"values":[{}]},"mark":{"type":"text","text":"CME Ether Futures","fill":"#ffffff","fontSize":23,"align":"left","baseline":"middle"},
 "encoding":{"x":{"datum":-0.33,"type":"quantitative"},"y":{"datum":4988,"type":"quantitative"}}},
{"data":{"values":[{}]},"mark":{"type":"text","text":"ETH 11-25 (Daily)","fill":"#ffffff","fontSize":23,"align":"left","baseline":"middle"},
 "encoding":{"x":{"datum":-0.33,"type":"quantitative"},"y":{"datum":4883,"type":"quantitative"}}},
{"data":{"values":[{}]},"mark":{"type":"text","text":"6/12/2025 - 11/13/2025","fill":"#bdbdbd","fontSize":10,"align":"left","baseline":"middle"},
 "encoding":{"x":{"datum":-0.72,"type":"quantitative"},"y":{"datum":5078,"type":"quantitative"}}},
{"data":{"values":[{}]},"mark":{"type":"rect","fill":"#101010"},
 "encoding":{"x":{"datum":109.9,"type":"quantitative"},"x2":{"datum":113.9},"y":{"datum":5094,"type":"quantitative"},"y2":{"datum":3512}}},
{"data":{"name":"info"},"mark":{"type":"text","fill":"#ececec","fontSize":10.6,"align":"left","baseline":"top","lineBreak":"\n","lineHeight":11.6},
 "encoding":{"x":{"datum":110.1,"type":"quantitative"},"y":{"datum":5083,"type":"quantitative"},"text":{"field":"txt"}}},
{"data":{"name":"bp"},"mark":{"type":"rule","stroke":"#b4b4b4","strokeWidth":19},
 "encoding":{"x":{"datum":114.6,"type":"quantitative"},"x2":{"datum":118.3},"y":{"field":"v","type":"quantitative","title":null}}},
{"data":{"name":"bp"},"mark":{"type":"rule","strokeWidth":17},
 "encoding":{"x":{"datum":114.62,"type":"quantitative"},"x2":{"datum":118.3},"y":{"field":"v","type":"quantitative","title":null},
 "stroke":{"condition":[{"test":"datum.k=='m'","value":"#ff00ff"},{"test":"datum.k=='g'","value":"#32cd32"},{"test":"datum.k=='c'","value":"#000000"}],"value":"#daa520"}}},
{"data":{"name":"bp"},"mark":{"type":"point","shape":"triangle-left","filled":true,"size":150,"opacity":1},
 "encoding":{"x":{"datum":114.42,"type":"quantitative"},"y":{"field":"v","type":"quantitative","title":null},
 "fill":{"condition":[{"test":"datum.k=='m'","value":"#ff00ff"},{"test":"datum.k=='g'","value":"#32cd32"},{"test":"datum.k=='c'","value":"#000000"}],"value":"#daa520"}}},
{"data":{"name":"bp"},"mark":{"type":"text","fontSize":11.5,"align":"left","baseline":"middle"},
 "encoding":{"x":{"datum":115.1,"type":"quantitative"},"y":{"field":"v","type":"quantitative","title":null},"text":{"field":"lab"},
 "fill":{"condition":{"test":"datum.k=='g'||datum.k=='o'","value":"#000000"},"value":"#ffffff"}}}
]},
{"width":1844,"height":71,"layer":[
{"data":{"name":"ind"},"mark":{"type":"line","stroke":"#c8860a","strokeWidth":2.5,"interpolate":"monotone"},
 "encoding":{"x":{"field":"i","type":"quantitative","title":null,"scale":{"domain":[-1.07,114.55],"nice":false,"zero":false},"axis":{"orient":"bottom","labels":false,"ticks":false,"domain":true,"domainColor":"#c8c8c8","domainWidth":1.5,"grid":false,"title":null}},
 "y":{"field":"v","type":"quantitative","title":null,"scale":{"domain":[244,639],"nice":false,"zero":false},"axis":{"orient":"right","values":[300,400,500,600],"format":"d","grid":false,"domainColor":"#c8c8c8","tickColor":"#c8c8c8","labelColor":"#d8d8d8","labelFontSize":11,"tickSize":5,"labelPadding":4,"title":null,"labelExpr":"datum.value==600?'':datum.label"}}}},
{"data":{"name":"bi"},"mark":{"type":"rule","stroke":"#b4b4b4","strokeWidth":19},
 "encoding":{"x":{"datum":114.6,"type":"quantitative"},"x2":{"datum":118.3},"y":{"field":"v","type":"quantitative","title":null}}},
{"data":{"name":"bi"},"mark":{"type":"rule","stroke":"#ffa500","strokeWidth":17},
 "encoding":{"x":{"datum":114.62,"type":"quantitative"},"x2":{"datum":118.3},"y":{"field":"v","type":"quantitative","title":null}}},
{"data":{"name":"bi"},"mark":{"type":"point","shape":"triangle-left","filled":true,"size":150,"fill":"#ffa500","opacity":1},
 "encoding":{"x":{"datum":114.42,"type":"quantitative"},"y":{"field":"v","type":"quantitative","title":null}}},
{"data":{"name":"bi"},"mark":{"type":"text","fontSize":11.5,"align":"left","baseline":"middle","fill":"#000000"},
 "encoding":{"x":{"datum":115.1,"type":"quantitative"},"y":{"field":"v","type":"quantitative","title":null},"text":{"field":"lab"}}}
]},
{"width":1844,"height":68,"layer":[
{"data":{"name":"bars"},"mark":{"type":"rule","stroke":"#1e90ff","strokeWidth":2.6},
 "encoding":{"x":{"field":"i","type":"quantitative","title":null,"scale":{"domain":[-1.07,114.55],"nice":false,"zero":false},
  "axis":{"orient":"bottom","values":[13,35,56,77,100],"labelExpr":"datum.value==13?'Jul':datum.value==35?'Aug':datum.value==56?'Sep':datum.value==77?'Oct':'Nov'","domain":true,"domainColor":"#c8c8c8","domainWidth":1.5,"tickColor":"#c8c8c8","tickSize":6,"labelColor":"#d8d8d8","labelFontSize":11.5,"labelPadding":5,"grid":false,"title":null}},
 "y":{"field":"v","type":"quantitative","title":null,"scale":{"domain":[-2727,28180],"nice":false,"zero":false},"axis":{"orient":"right","values":[0,10000,20000],"format":"d","grid":false,"domainColor":"#c8c8c8","tickColor":"#c8c8c8","labelColor":"#d8d8d8","labelFontSize":11,"tickSize":5,"labelPadding":4,"title":null}},
 "y2":{"datum":0}}},
{"data":{"name":"vs"},"mark":{"type":"line","stroke":"#008b8b","strokeWidth":4,"opacity":0.85,"interpolate":"monotone"},
 "encoding":{"x":{"field":"i","type":"quantitative","title":null},"y":{"field":"v","type":"quantitative","title":null}}},
{"data":{"name":"bars"},"mark":{"type":"line","stroke":"#daa520","strokeWidth":1.8},
 "encoding":{"x":{"field":"i","type":"quantitative","title":null},"y":{"field":"vf","type":"quantitative","title":null}}},
{"data":{"name":"bv"},"mark":{"type":"rule","stroke":"#b4b4b4","strokeWidth":18},
 "encoding":{"x":{"datum":114.6,"type":"quantitative"},"x2":{"datum":118.3},"y":{"field":"v","type":"quantitative","title":null}}},
{"data":{"name":"bv"},"mark":{"type":"rule","strokeWidth":16},
 "encoding":{"x":{"datum":114.62,"type":"quantitative"},"x2":{"datum":118.3},"y":{"field":"v","type":"quantitative","title":null},
 "stroke":{"condition":[{"test":"datum.k=='b'","value":"#1e90ff"},{"test":"datum.k=='t'","value":"#008b8b"}],"value":"#daa520"}}},
{"data":{"name":"bv"},"mark":{"type":"point","shape":"triangle-left","filled":true,"size":130,"opacity":1},
 "encoding":{"x":{"datum":114.42,"type":"quantitative"},"y":{"field":"v","type":"quantitative","title":null},
 "fill":{"condition":[{"test":"datum.k=='b'","value":"#1e90ff"},{"test":"datum.k=='t'","value":"#008b8b"}],"value":"#daa520"}}},
{"data":{"name":"bv"},"mark":{"type":"text","fontSize":11.5,"align":"left","baseline":"middle"},
 "encoding":{"x":{"datum":115.1,"type":"quantitative"},"y":{"field":"v","type":"quantitative","title":null},"text":{"field":"lab"},
 "fill":{"condition":{"test":"datum.k=='o'","value":"#000000"},"value":"#ffffff"}}},
{"data":{"values":[{}]},"mark":{"type":"text","text":"© 2025 NinjaTrader, LLC","fill":"#d0d0d0","fontSize":11,"align":"left","baseline":"middle"},
 "encoding":{"x":{"datum":-0.76,"type":"quantitative"},"y":{"datum":3636,"type":"quantitative"}}},
{"data":{"values":[{}]},"mark":{"type":"text","text":"ETH 11-25","fill":"#c8c8c8","fontSize":8.5,"align":"left","baseline":"middle"},
 "encoding":{"x":{"datum":-0.72,"type":"quantitative"},"y":{"datum":-20000,"type":"quantitative"}}},
{"data":{"values":[{}]},"mark":{"type":"text","text":"NINJATRADER","fill":"#e64a2a","fontSize":15,"fontWeight":"bold","align":"right","baseline":"middle"},
 "encoding":{"x":{"datum":118.2,"type":"quantitative"},"y":{"datum":-19090,"type":"quantitative"}}}
]}
]
}
